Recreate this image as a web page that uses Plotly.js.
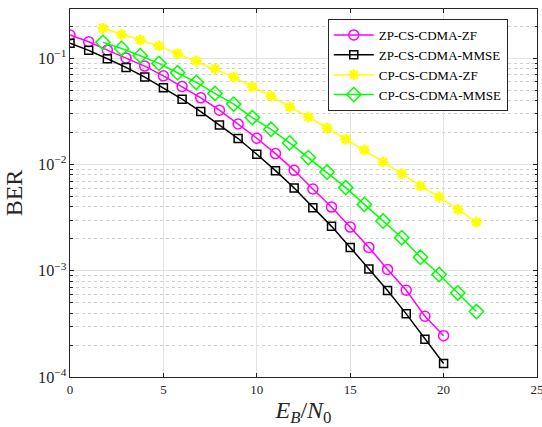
<!DOCTYPE html>
<html>
<head>
<meta charset="utf-8">
<script src="https://cdn.plot.ly/plotly-3.0.1.min.js"></script>
<style>html,body{margin:0;padding:0;background:#fff;}#chart{width:542px;height:427px;}</style>
</head>
<body>
<div id="chart"></div>
<script>
// Eb/N0 values
const ebnoZP = [0,1,2,3,4,5,6,7,8,9,10,11,12,13,14,15,16,17,18,19,20];
const ebnoCP = [1.76,2.76,3.76,4.76,5.76,6.76,7.76,8.76,9.76,10.76,11.76,12.76,13.76,14.76,15.76,16.76,17.76,18.76,19.76,20.76,21.76];

const berZPZF = [0.166,0.1435,0.1197,0.101,0.0846,0.0685,0.0544,0.0425,0.0325,0.0241,0.0177,0.0127,0.00883,0.00589,0.00398,0.00258,0.00166,0.00103,0.000656,0.000373,0.000245];
const berZPMMSE = [0.139,0.119,0.0991,0.0822,0.0667,0.0529,0.0413,0.0316,0.0236,0.0176,0.0125,0.00877,0.00601,0.00393,0.00262,0.00166,0.00104,0.000651,0.000393,0.000227,0.000134];
const berCPZF = [0.192,0.168,0.149,0.131,0.111,0.0944,0.0798,0.0667,0.054,0.0441,0.0349,0.0281,0.0221,0.0173,0.0137,0.0106,0.00823,0.00629,0.00495,0.00379,0.00287];
const berCPMMSE = [0.1416,0.124,0.106,0.0897,0.0732,0.0594,0.0468,0.0371,0.0277,0.0215,0.016,0.01164,0.00851,0.00607,0.00422,0.00294,0.00205,0.00134,0.000922,0.000619,0.000413];

const names = ['ZP-CS-CDMA-ZF','ZP-CS-CDMA-MMSE','CP-CS-CDMA-ZF','CP-CS-CDMA-MMSE'];

const serif = 'Liberation Serif, DejaVu Serif, serif';

const traces = [
  {x: ebnoZP, y: berZPZF, name: names[0], mode: 'lines+markers',
   line: {color: '#ff00ff', width: 1.5},
   marker: {symbol: 'circle-open', size: 10, color: '#ff00ff', line: {width: 1.5, color: '#ff00ff'}}},
  {x: ebnoZP, y: berZPMMSE, name: names[1], mode: 'lines+markers',
   line: {color: '#000000', width: 1.5},
   marker: {symbol: 'square-open', size: 8, color: '#000000', line: {width: 1.5, color: '#000000'}}},
  {x: ebnoCP, y: berCPZF, name: names[2], mode: 'lines+markers',
   line: {color: '#ffff00', width: 1.5},
   marker: {symbol: 'asterisk-open', size: 9, color: '#ffff00', line: {width: 2.5, color: '#ffff00'}}},
  {x: ebnoCP, y: berCPMMSE, name: names[3], mode: 'lines+markers',
   line: {color: '#00ff00', width: 1.5},
   marker: {symbol: 'diamond-open', size: 11, color: '#00ff00', line: {width: 1.5, color: '#00ff00'}}}
];

const layout = {
  width: 542, height: 427,
  margin: {l: 70, r: 5, t: 9, b: 50},
  paper_bgcolor: '#ffffff', plot_bgcolor: '#ffffff',
  font: {family: serif, size: 13, color: '#262626'},
  showlegend: true,
  legend: {x: 0.552, y: 0.973, xanchor: 'left', yanchor: 'top',
    bgcolor: '#ffffff', bordercolor: '#262626', borderwidth: 1,
    font: {family: serif, size: 13, color: '#000'}, tracegroupgap: 0, itemwidth: 40},
  xaxis: {
    range: [0, 25], dtick: 5, tick0: 0,
    ticks: 'inside', ticklen: 4, tickcolor: '#262626', mirror: 'allticks',
    showline: true, linecolor: '#262626', linewidth: 1,
    showgrid: true, gridcolor: '#e3e3e3', gridwidth: 1, zeroline: false,
    ticklabeloverflow: 'allow',
    tickfont: {family: serif, size: 13, color: '#262626'},
    title: {text: '<i>E</i><sub><i>B</i></sub>/<i>N</i><sub>0</sub>', font: {family: serif, size: 24, color: '#262626'}, standoff: 8}
  },
  yaxis: {
    type: 'log', range: [-4, -0.535], dtick: 1,
    exponentformat: 'power', showexponent: 'all',
    ticks: 'inside', ticklen: 4, tickcolor: '#262626', mirror: 'allticks',
    showline: true, linecolor: '#262626', linewidth: 1,
    showgrid: true, gridcolor: '#e3e3e3', gridwidth: 1, zeroline: false,
    tickfont: {family: serif, size: 13, color: '#262626'},
    minor: {dtick: 'D1', showgrid: true, gridcolor: '#d0d0d0', griddash: 'dot', gridwidth: 1, ticks: 'inside', ticklen: 2.5, tickcolor: '#262626'},
    title: {text: 'BER', font: {family: serif, size: 24, color: '#262626'}, standoff: 8}
  }
};

Plotly.newPlot('chart', traces, layout, {displayModeBar: false, staticPlot: true});
</script>
</body>
</html>
